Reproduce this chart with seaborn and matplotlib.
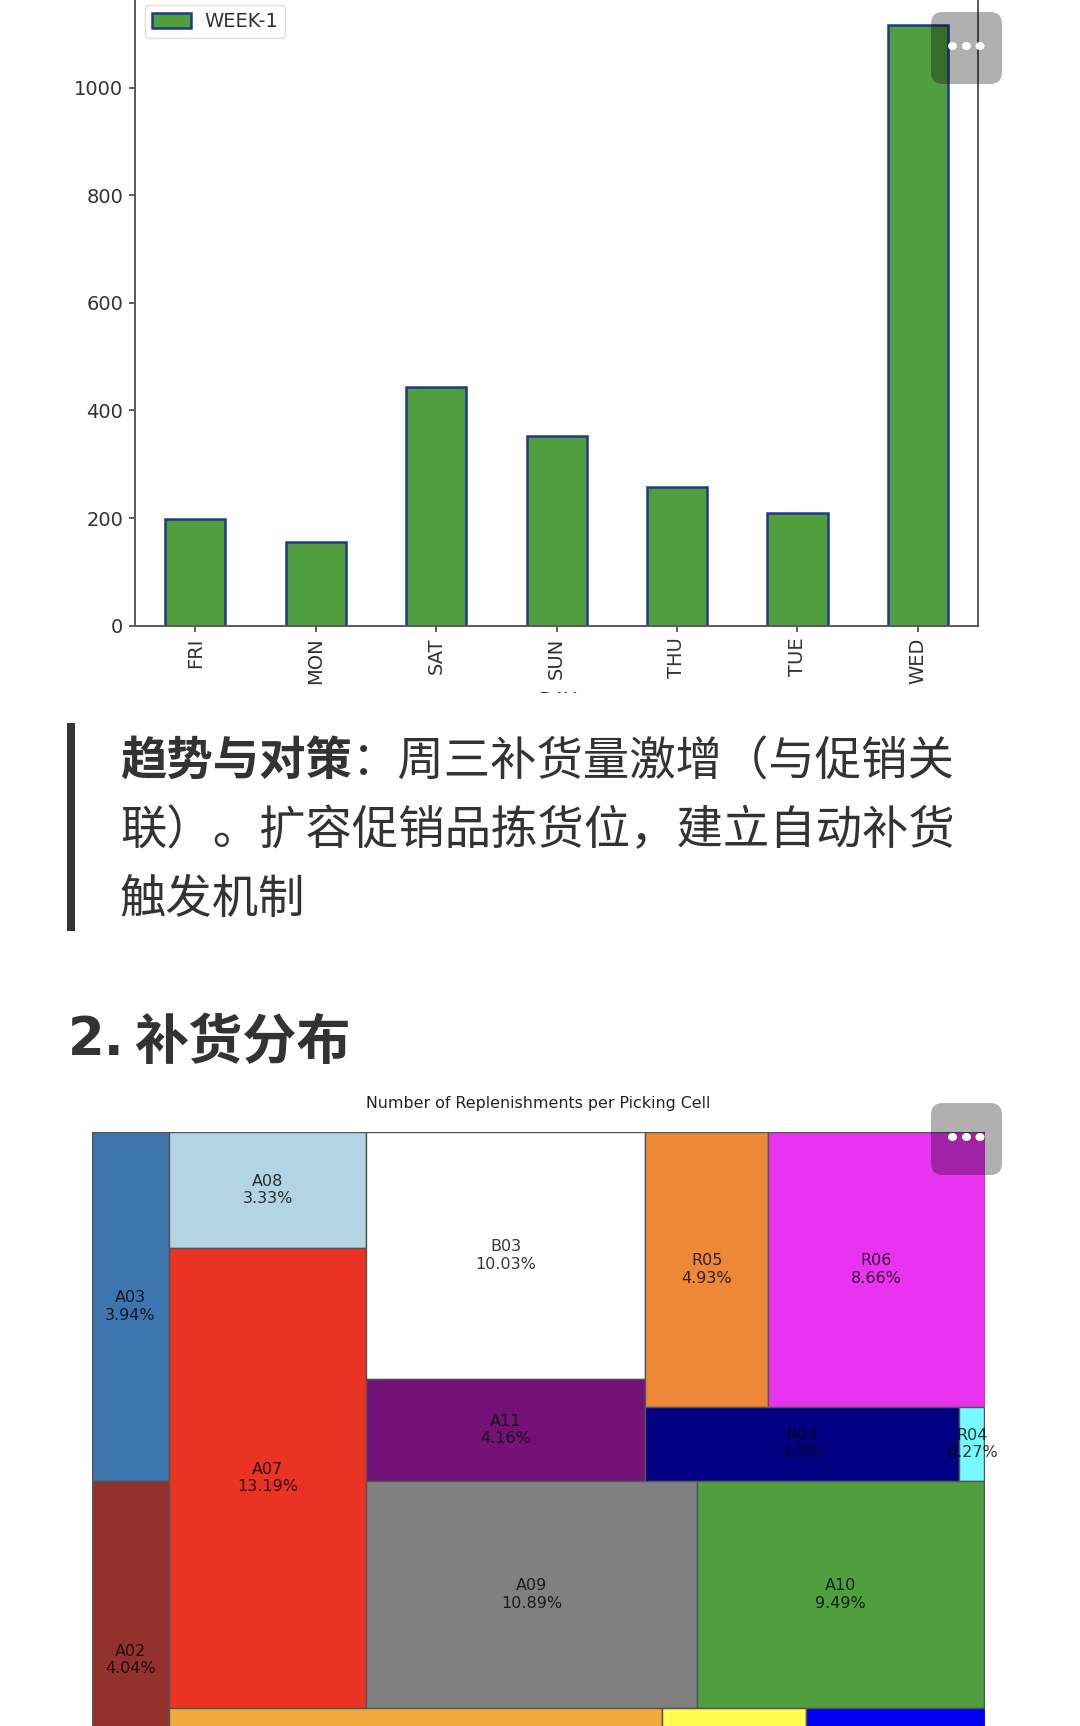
import matplotlib
matplotlib.use("Agg")
import matplotlib.pyplot as plt
from matplotlib.patches import Rectangle, FancyBboxPatch, Ellipse
from matplotlib.transforms import Bbox
import pandas as pd
import seaborn as sns

# Weekly replenishment counts
days = ["FRI", "MON", "SAT", "SUN", "THU", "TUE", "WED"]
week_1 = [199, 156, 443, 353, 258, 209, 1116]

# Share of replenishments per picking cell (%); unlabelled cells sit below the page edge
cell_names = ["A03", "A02", "A01", "A08", "A07", "B03", "A11", "R05", "R06",
              "R03", "R04", "A09", "A10", "C1", "C2", "C3"]
cell_shares = [3.94, 4.04, 0.70, 3.33, 13.19, 10.03, 4.16, 4.93, 8.66,
               3.39, 0.27, 10.89, 9.49, 13.90, 4.04, 5.03]
cell_labels = ["3.94%", "4.04%", "", "3.33%", "13.19%", "10.03%", "4.16%", "4.93%", "8.66%",
               "3.3%", "0.27%", "10.89%", "9.49%", "", "", ""]
cell_colors = ["#3d76ae", "#93312c", "#e8e8e8", "#b3d4e3", "#ea3323", "#ffffff", "#751277",
               "#ed8936", "#ea33f0", "#000080", "#75fbfd", "#808080", "#509e3d",
               "#f0ab3d", "#fffb4f", "#0000f5"]

# Nesting of the treemap: "x" splits side by side, "y" stacks
cell_tree = ("x", [
    ("y", ["A03", "A02", "A01"]),
    ("y", [
        ("x", [
            ("y", ["A08", "A07"]),
            ("y", [
                ("x", [
                    ("y", ["B03", "A11"]),
                    ("y", [("x", ["R05", "R06"]), ("x", ["R03", "R04"])]),
                ]),
                ("x", ["A09", "A10"]),
            ]),
        ]),
        ("x", ["C1", "C2", "C3"]),
    ]),
])

heading_number = "2."
heading_text = "补货分布"
quote_bold = "趋势与对策"
# Full-width punctuation, escaped so an editor cannot swap it for the ASCII forms
quote_line_1 = "\uff1a周三补货量激增\uff08与促销关"
quote_line_2 = "联\uff09\u3002扩容促销品拣货位\uff0c建立自动补货"
quote_line_3 = "触发机制"
INK = "#333333"
GREEN = "#509e3d"
BAR_EDGE = "#1f3a8a"
CJK = ["Noto Sans CJK SC", "DejaVu Sans"]

W, H = 1080, 1726
sns.set_theme(style="white")
plt.rcParams["font.family"] = ["DejaVu Sans", "Noto Sans CJK SC"]
fig = plt.figure(figsize=(W / 100, H / 100), dpi=100, facecolor="white")


def px_axes(left, top, right, bottom, **kw):
    """Axes placed by page pixels, measured from the top-left corner."""
    return fig.add_axes([left / W, 1 - bottom / H, (right - left) / W, (bottom - top) / H], **kw)


# Bar chart of the week
ax = px_axes(135.2, -5, 978, 625.7)
df = pd.DataFrame({"DAY": days, "count": week_1})
sns.barplot(data=df, x="DAY", y="count", color=GREEN, saturation=1, width=0.5,
            edgecolor=BAR_EDGE, linewidth=1.8, label="WEEK-1", ax=ax)
ax.set_xlim(-0.5, 6.5)
ax.set_ylim(0, 1172)
ax.set_ylabel("")
ax.set_xlabel("")
ax.set_yticks(range(0, 1001, 200))
ax.tick_params(axis="both", length=4.5, width=1.2, color="#444444", labelcolor="#333333",
               labelsize=14, left=True, bottom=True)
ax.tick_params(axis="y", pad=4)
ax.tick_params(axis="x", labelrotation=90, pad=4)
for name, spine in ax.spines.items():
    spine.set_color("#5a5a5a")
    spine.set_linewidth(1.4)
ax.legend(loc="upper left", bbox_to_anchor=(0.0, 0.9995), borderaxespad=0.5, fontsize=14,
          handlelength=2, handleheight=0.8, borderpad=0.35, handletextpad=0.7, frameon=True,
          edgecolor="#dddddd", labelcolor="#333333", framealpha=1)

# Treemap of picking cells
tm = px_axes(91.5, 1132, 984.5, 1901)
tm.set_xlim(0, 100)
tm.set_ylim(100, 0)
tm.axis("off")
share_of = dict(zip(cell_names, cell_shares))
color_of = dict(zip(cell_names, cell_colors))
label_of = dict(zip(cell_names, cell_labels))


def total(node):
    if isinstance(node, str):
        return share_of[node]
    return sum(total(child) for child in node[1])


def draw_cells(node, x, y, w, h):
    if isinstance(node, str):
        tm.add_patch(Rectangle((x, y), w, h, facecolor=color_of[node],
                               edgecolor="#555555", linewidth=1.0))
        if label_of[node]:
            tm.text(x + w / 2, y + h / 2, f"{node}\n{label_of[node]}", ha="center", va="center",
                    fontsize=11.5, color="black", alpha=0.78, clip_on=False, zorder=5)
        return
    axis, children = node
    whole = total(node)
    for child in children:
        part = total(child) / whole
        if axis == "x":
            draw_cells(child, x, y, w * part, h)
            x += w * part
        else:
            draw_cells(child, x, y, w, h * part)
            y += h * part


draw_cells(cell_tree, 0, 0, 100, 100)

# Page layer: article text and the overlay buttons, in pixels
page = fig.add_axes([0, 0, 1, 1], zorder=10)
page.set_xlim(0, W)
page.set_ylim(H, 0)
page.axis("off")

# Axis title cut off by the image frame below the chart
xlab = page.text(557, 700, "DAY", ha="center", va="center", fontsize=14, color="#333333")
xlab.set_clip_on(True)
xlab.set_clip_box(Bbox([[0, H - 693], [W, H - 680]]))

page.text(538.5, 1103, "Number of Replenishments per Picking Cell", ha="center", va="center",
          fontsize=11.45, color="#222222")

page.add_patch(Rectangle((67, 723), 8, 208, facecolor=INK, edgecolor="none"))
QUOTE_SIZE = 33.4
page.text(120, 762, quote_bold, family=CJK, weight="bold", fontsize=QUOTE_SIZE, color=INK,
          ha="left", va="center")
page.text(352, 762, quote_line_1, family=CJK, fontsize=QUOTE_SIZE, color=INK, ha="left", va="center")
page.text(120, 831, quote_line_2, family=CJK, fontsize=QUOTE_SIZE, color=INK, ha="left", va="center")
page.text(120, 900, quote_line_3, family=CJK, fontsize=QUOTE_SIZE, color=INK, ha="left", va="center")
page.text(68, 1040, heading_number, family=["DejaVu Sans"], weight="bold",
          fontsize=38, color=INK, ha="left", va="center")
page.text(134, 1043, heading_text, family=CJK, weight="bold",
          fontsize=39, color=INK, ha="left", va="center")

for top in (12, 1103):
    page.add_patch(FancyBboxPatch((943, top + 12), 47, 48, boxstyle="round,pad=12,rounding_size=12",
                                  facecolor="black", edgecolor="none", alpha=0.31))
    for dot_x in (952.5, 966.5, 980):
        page.add_patch(Ellipse((dot_x, top + 34), 9, 8, facecolor="white", edgecolor="none"))

fig.savefig("out.png", dpi=100, facecolor="white")
